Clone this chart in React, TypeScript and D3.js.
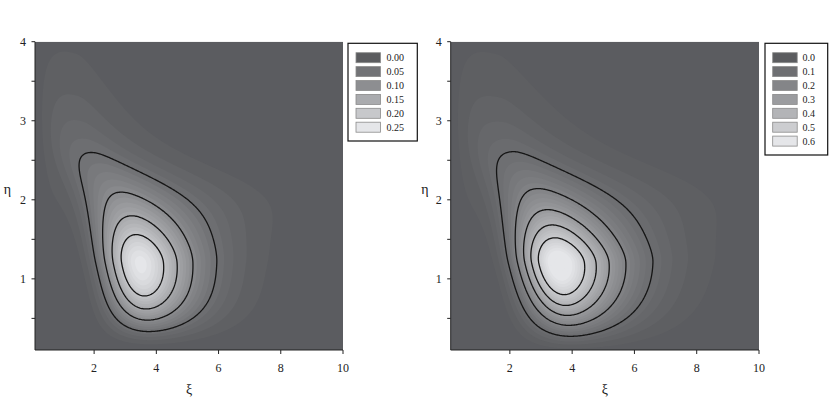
import React, { useMemo } from "react";
import * as d3 from "d3";

// ---- data ----
const xTicks = [2, 4, 6, 8, 10];
const yTicks = [1, 2, 3, 4];
const yMinorTicks = [0.5, 1.5, 2.5, 3.5];
const xDomain = [0.1, 10];
const yDomain = [0.1, 4];

const leftLegendLevels = [0, 0.05, 0.1, 0.15, 0.2, 0.25];
const leftLegendLabels = ["0.00", "0.05", "0.10", "0.15", "0.20", "0.25"];
const leftLineLevels = [0.05, 0.1, 0.15, 0.2];
const leftFillStep = [0.01];

const rightLegendLevels = [0, 0.1, 0.2, 0.3, 0.4, 0.5, 0.6];
const rightLegendLabels = ["0.0", "0.1", "0.2", "0.3", "0.4", "0.5", "0.6"];
const rightLineLevels = [0.1, 0.2, 0.3, 0.4, 0.5];
const rightFillStep = [0.02];

// density surface parameters
// eta profile: [peak, mode, scaleUp, scaleDown, powerUp, powerDown]
const leftEta = [0.255, 1.2, 0.559, 0.915, 1.66, 1.6];
const rightEta = [0.65, 1.2, 0.491, 0.855, 1.5, 1.3];
// xi conditional (log scale):
// [centre0, centreSlope, centreDrop, dropMid, dropWidth, spread0, growthLeft, growthRight, power]
const leftXi = [1.35, -0.08, 0.69, 2.44, 0.23, 0.4, 0.65, 1.3, 1.8];
const rightXi = [1.4, -0.1, 0.55, 2.44, 0.23, 0.413, 0.65, 1.3, 1.7];
// faint upper-left tail: [weight, xi, eta, sdXi, sdEta]
const leftTail = [0.009, 0.6, 2.2, 0.6, 0.9];
const rightTail = [0.018, 0.6, 2.2, 0.6, 0.9];

function spow(t: number, p: number) {
  const e = 0.3;
  return (Math.pow(1 + (t / e) * (t / e), p / 2) - 1) * Math.pow(e, p);
}
function softplus(d: number) {
  return 0.3 * Math.log(1 + Math.exp(d / 0.3));
}
function ramp(d: number) {
  return softplus(d) - softplus(d - 0.5);
}

function density(eta: number[], xi: number[], tail: number[], x: number, y: number) {
  const [P, y0, sU, sD, gU, gD] = eta;
  const lr = Math.log(y / y0);
  const h = P * Math.exp(-spow(Math.abs(lr) / (lr > 0 ? sU : sD), lr > 0 ? gU : gD));
  const [a0, a1, aDrop, aMid, aW, s0, gL, gR, beta] = xi;
  const a = a0 + a1 * y - aDrop / (1 + Math.exp(-(y - aMid) / aW));
  const d = Math.log(x) - a;
  const s =
    d < 0
      ? s0 * Math.exp(gL * (softplus(y - y0) - softplus(0)))
      : s0 * Math.exp(gR * (ramp(y - y0 - 0.4) - ramp(-0.4)));
  const z = Math.abs(d) / s;
  const k = Math.exp(-spow(z, beta));
  const [tw, tx, ty, tsx, tsy] = tail;
  const t = tw * Math.exp(-0.5 * (((x - tx) / tsx) ** 2 + ((y - ty) / tsy) ** 2));
  return h * k + t;
}

function grayFor(v: number, max: number) {
  const r = Math.max(0, Math.min(1, v / max));
  const g = Math.round(92 + 138 * Math.pow(r, 1.1));
  return `rgb(${g - 1},${g},${Math.min(255, g + 3)})`;
}

const FONT = "'Liberation Serif', 'Times New Roman', serif";

type PanelProps = {
  x0: number;
  x1: number;
  y0: number;
  y1: number;
  eta: number[];
  xi: number[];
  tail: number[];
  step: number;
  legendMax: number;
  lineLevels: number[];
  legendLevels: number[];
  legendLabels: string[];
  legendBox: { x: number; y: number; w: number; h: number; sx: number; lx: number };
  etaX: number;
  id: string;
};

function Panel(p: PanelProps) {
  const xScale = d3.scaleLinear().domain(xDomain).range([p.x0, p.x1]);
  const yScale = d3.scaleLinear().domain(yDomain).range([p.y1, p.y0]);

  const { fills, lines } = useMemo(() => {
    const n = 330;
    const m = 270;
    const dx = (xDomain[1] - xDomain[0]) / (n - 1);
    const dy = (yDomain[1] - yDomain[0]) / (m - 1);
    const values = new Array(n * m);
    for (let j = 0; j < m; j++) {
      const y = yDomain[0] + j * dy;
      for (let i = 0; i < n; i++) {
        const x = xDomain[0] + i * dx;
        values[i + j * n] = density(p.eta, p.xi, p.tail, x, y);
      }
    }
    const proj = d3.geoTransform({
      point(gx: number, gy: number) {
        (this as any).stream.point(
          xScale(xDomain[0] + (gx - 0.5) * dx),
          yScale(yDomain[0] + (gy - 0.5) * dy)
        );
      },
    });
    const path = d3.geoPath(proj);
    const maxV = d3.max(values) as number;
    const thr: number[] = [];
    for (let t = p.step; t < maxV; t += p.step) thr.push(+t.toFixed(4));
    const gen = d3.contours().size([n, m]);
    const fills = thr.map((t) => ({ t, d: path(gen.contour(values, t)) || "" }));
    const lines = p.lineLevels.map((t) => ({ t, d: path(gen.contour(values, t)) || "" }));
    return { fills, lines };
  }, [p.id]);

  const lb = p.legendBox;
  const rowH = 13.9;
  return (
    <g>
      <defs>
        <clipPath id={`clip-${p.id}`}>
          <rect x={p.x0} y={p.y0} width={p.x1 - p.x0} height={p.y1 - p.y0} />
        </clipPath>
      </defs>
      <g clipPath={`url(#clip-${p.id})`}>
        <rect x={p.x0} y={p.y0} width={p.x1 - p.x0} height={p.y1 - p.y0} fill="rgb(91,92,96)" />
        {fills.map((f) => (
          <path key={f.t} d={f.d} fill={grayFor(f.t, p.legendMax)} stroke="none" />
        ))}
        {lines.map((l) => (
          <path key={l.t} d={l.d} fill="none" stroke="#151515" strokeWidth={1.3} />
        ))}
      </g>
      {/* axes */}
      <line x1={p.x0} x2={p.x1} y1={p.y1} y2={p.y1} stroke="#222" strokeWidth={1} />
      <line x1={p.x0} x2={p.x0} y1={p.y0} y2={p.y1} stroke="#222" strokeWidth={1} />
      {xTicks.map((t) => (
        <g key={t}>
          <line x1={xScale(t)} x2={xScale(t)} y1={p.y1} y2={p.y1 + 4} stroke="#222" />
          <text x={xScale(t)} y={372} textAnchor="middle" fontFamily={FONT} fontSize={12} fill="#222">
            {t}
          </text>
        </g>
      ))}
      {yTicks.map((t) => (
        <g key={t}>
          <line x1={p.x0 - 3.5} x2={p.x0} y1={yScale(t)} y2={yScale(t)} stroke="#222" />
          <text x={p.x0 - 9} y={yScale(t) + 4} textAnchor="end" fontFamily={FONT} fontSize={12} fill="#222">
            {t}
          </text>
        </g>
      ))}
      {yMinorTicks.map((t) => (
        <line key={t} x1={p.x0 - 3.5} x2={p.x0} y1={yScale(t)} y2={yScale(t)} stroke="#222" />
      ))}
      <text x={(p.x0 + p.x1) / 2} y={394} textAnchor="middle" fontFamily={FONT} fontSize={14} fill="#222">
        ξ
      </text>
      <text x={p.etaX} y={193.5} textAnchor="middle" fontFamily={FONT} fontSize={14} fill="#222">
        η
      </text>
      {/* legend */}
      <rect x={lb.x} y={lb.y} width={lb.w} height={lb.h} fill="white" stroke="#111" strokeWidth={1.2} />
      {p.legendLevels.map((v, i) => (
        <g key={v}>
          <rect
            x={lb.sx}
            y={57.7 + i * rowH - 5}
            width={24.5}
            height={10}
            fill={grayFor(v, p.legendMax)}
            stroke="#8a8a8a"
            strokeWidth={0.8}
          />
          <text x={lb.lx} y={57.7 + i * rowH + 3.5} fontFamily={FONT} fontSize={10} fill="#222">
            {p.legendLabels[i]}
          </text>
        </g>
      ))}
    </g>
  );
}

export default function App() {
  return (
    <svg
      width={830}
      height={409}
      style={{ position: "absolute", left: 0, top: 0, background: "white" }}
    >
      <Panel
        id="left"
        x0={35}
        x1={343}
        y0={41.7}
        y1={350}
        eta={leftEta}
        xi={leftXi}
        tail={leftTail}
        step={leftFillStep[0]}
        legendMax={0.25}
        lineLevels={leftLineLevels}
        legendLevels={leftLegendLevels}
        legendLabels={leftLegendLabels}
        legendBox={{ x: 348, y: 43.3, w: 69.3, h: 97.7, sx: 356, lx: 386.5 }}
        etaX={7.5}
      />
      <Panel
        id="right"
        x0={450.7}
        x1={759}
        y0={41.7}
        y1={350}
        eta={rightEta}
        xi={rightXi}
        tail={rightTail}
        step={rightFillStep[0]}
        legendMax={0.6}
        lineLevels={rightLineLevels}
        legendLevels={rightLegendLevels}
        legendLabels={rightLegendLabels}
        legendBox={{ x: 765, y: 43.3, w: 62.7, h: 111.7, sx: 772.7, lx: 802.5 }}
        etaX={425}
      />
    </svg>
  );
}
